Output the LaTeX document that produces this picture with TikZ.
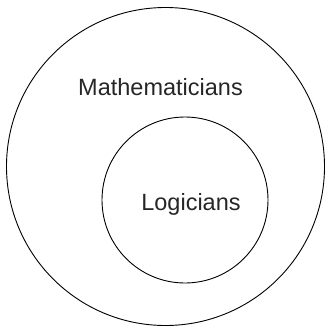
\documentclass[tikz,border=0pt]{standalone}
\usepackage{fontspec}
\setmainfont{Liberation Sans}
\usetikzlibrary{positioning}
\tikzset{
  ring/.style={circle,draw=black,line width=0.9pt,inner sep=0pt},
  lbl/.style={font=\fontsize{23.5}{28}\selectfont,text=black!85,anchor=base,inner sep=0pt},
}
\begin{document}
\begin{tikzpicture}[x=1pt,y=-1pt]
\useasboundingbox (0,0) rectangle (325,327);
\node[ring,minimum size=318pt] (mathcirc) at (165.5,166.5) {};
\node[ring,minimum size=166pt] (logcirc)  at (185,200) {};
\node[lbl] (mathlbl) at (160.5,95)  {Mathematicians};
\node[lbl] (loglbl)  at (191,210)   {Logicians};
\end{tikzpicture}
\end{document}
